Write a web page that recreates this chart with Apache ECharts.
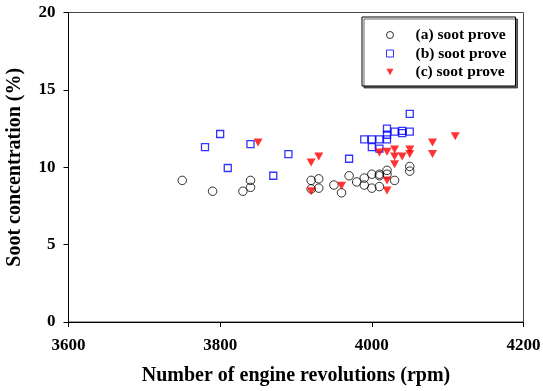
<!DOCTYPE html>
<html>
<head>
<meta charset="utf-8">
<script src="https://cdn.jsdelivr.net/npm/echarts@6/dist/echarts.min.js"></script>
<style>
  html, body { margin: 0; padding: 0; background: #fff; }
  #chart { width: 543px; height: 391px; }
</style>
</head>
<body>
<div id="chart"></div>
<script>
// rpm / soot %
const rpmA = [3750, 3790, 3830, 3840, 3840, 3920, 3930, 3930, 3920, 3950, 3960, 3970, 3980, 3990, 3990, 4000, 4000, 4010, 4010, 4010, 4020, 4020, 4030, 4050, 4050];
const sootA = [9.15, 8.45, 8.45, 9.15, 8.7, 9.15, 9.25, 8.65, 8.6, 8.85, 8.35, 9.45, 9.05, 9.3, 8.85, 9.55, 8.65, 9.55, 9.45, 8.75, 9.8, 9.55, 9.15, 10.05, 9.75];

const rpmB = [3780, 3800, 3810, 3840, 3870, 3890, 3970, 3990, 4000, 4000, 4010, 4010, 4020, 4020, 4020, 4030, 4040, 4040, 4050, 4050];
const sootB = [11.3, 12.15, 9.95, 11.5, 9.45, 10.85, 10.55, 11.8, 11.8, 11.3, 11.8, 11.2, 12.5, 12.1, 11.8, 12.3, 12.35, 12.2, 13.45, 12.3];

const rpmC = [3850, 3920, 3930, 3920, 3960, 4010, 4020, 4030, 4030, 4040, 4050, 4050, 4030, 4020, 4020, 4080, 4080, 4110];
const sootC = [11.6, 10.3, 10.7, 8.45, 8.8, 10.95, 11.0, 11.15, 10.7, 10.7, 11.15, 10.85, 10.2, 9.15, 8.5, 11.6, 10.85, 12.0];

const seriesNames = ['(a) soot prove', '(b) soot prove', '(c) soot prove'];
const xTicks = [3600, 3800, 4000, 4200];
const yTicks = [0, 5, 10, 15, 20];

const pairs = (xs, ys) => xs.map((x, i) => [x, ys[i]]);
const font = '"Liberation Serif", "Times New Roman", serif';
const triangleDown = 'path://M0,0 L10,0 L5,9 Z';

const chart = echarts.init(document.getElementById('chart'));
const option = {
  animation: false,
  backgroundColor: '#fff',
  textStyle: {fontFamily: font},
  grid: {
    left: 68.5,
    right: 19.5,
    top: 12.5,
    bottom: 69,
    outerBoundsMode: 'none',
    containLabel: false,
    show: true,
    borderColor: '#444',
    borderWidth: 1,
  },
  legend: {
    orient: 'vertical',
    left: 362,
    top: 17,
    padding: [10, 9, 6, 24],
    itemGap: 2.5,
    itemWidth: 7,
    itemHeight: 7,
    backgroundColor: '#fff',
    borderColor: '#000',
    borderWidth: 1,
    shadowColor: 'rgba(0,0,0,0.6)',
    shadowOffsetX: 2,
    shadowOffsetY: 2,
    textStyle: {
      fontFamily: font,
      fontWeight: 'bold',
      fontSize: 15.5,
      lineHeight: 16,
      color: '#000',
      padding: [0, 0, 0, 17],
    },
    data: [
      {name: seriesNames[0], icon: 'circle', itemStyle: {color: 'transparent', borderColor: '#000', borderWidth: 1}},
      {name: seriesNames[1], icon: 'rect', itemStyle: {color: 'transparent', borderColor: '#0000ff', borderWidth: 1}},
      {name: seriesNames[2], icon: triangleDown, itemStyle: {color: '#ff0000'}},
    ],
  },
  xAxis: {
    type: 'value',
    min: xTicks[0],
    max: xTicks[xTicks.length - 1],
    interval: 200,
    name: 'Number of engine revolutions (rpm)',
    nameLocation: 'middle',
    nameGap: 44,
    nameTextStyle: {fontFamily: font, fontWeight: 'bold', fontSize: 20, color: '#000'},
    axisLine: {lineStyle: {color: '#000', width: 1}},
    axisTick: {show: true, inside: false, length: 5, lineStyle: {color: '#000'}},
    axisLabel: {
      fontFamily: font,
      fontWeight: 'bold',
      fontSize: 17,
      color: '#000',
      margin: 15,
      formatter: (v) => String(v),
    },
    splitLine: {show: false},
  },
  yAxis: {
    type: 'value',
    min: yTicks[0],
    max: yTicks[yTicks.length - 1],
    interval: 5,
    name: 'Soot concentration (%)',
    nameLocation: 'middle',
    nameGap: 44,
    nameRotate: 90,
    nameTextStyle: {fontFamily: font, fontWeight: 'bold', fontSize: 20, color: '#000'},
    axisLine: {show: true, lineStyle: {color: '#000', width: 1}},
    axisTick: {show: true, inside: false, length: 5, lineStyle: {color: '#000'}},
    axisLabel: {fontFamily: font, fontWeight: 'bold', fontSize: 17, color: '#000', margin: 13},
    splitLine: {show: false},
  },
  series: [
    {
      name: seriesNames[0],
      type: 'scatter',
      symbol: 'circle',
      symbolSize: 8.5,
      itemStyle: {color: 'transparent', borderColor: '#000', borderWidth: 1},
      data: pairs(rpmA, sootA),
    },
    {
      name: seriesNames[1],
      type: 'scatter',
      symbol: 'rect',
      symbolSize: 7,
      itemStyle: {color: 'transparent', borderColor: '#0000ff', borderWidth: 1.3},
      data: pairs(rpmB, sootB),
    },
    {
      name: seriesNames[2],
      type: 'scatter',
      symbol: triangleDown,
      symbolSize: [9, 8],
      itemStyle: {color: '#ff0000'},
      data: pairs(rpmC, sootC),
    },
  ],
};
chart.setOption(option);
</script>
</body>
</html>
